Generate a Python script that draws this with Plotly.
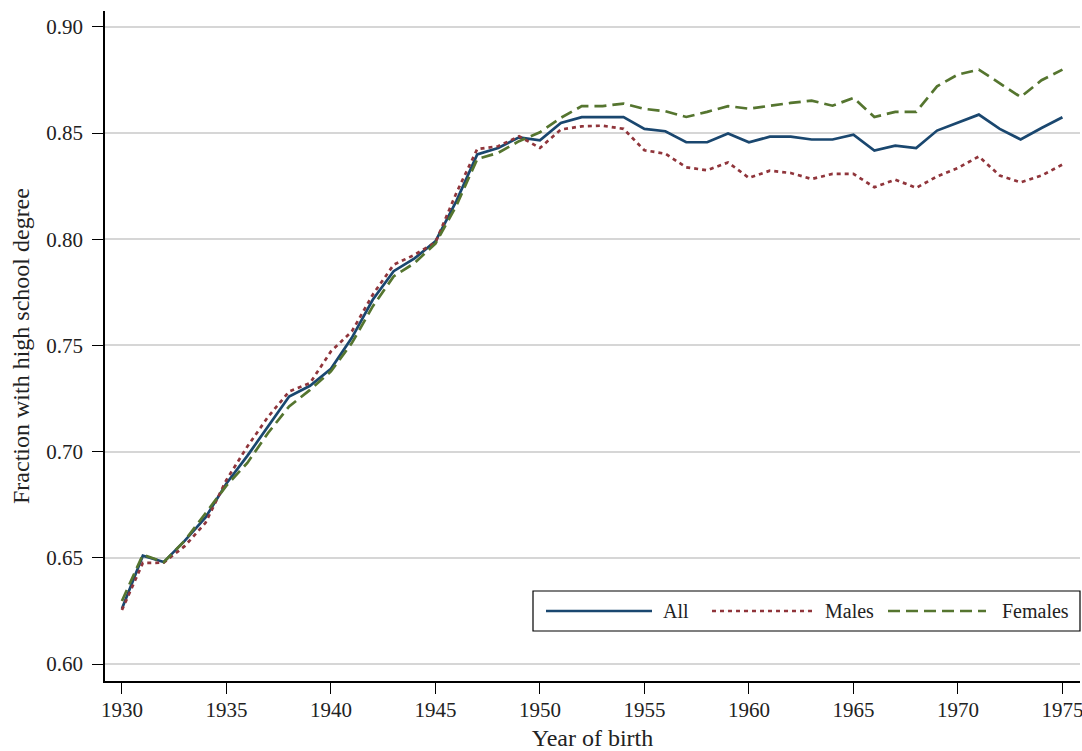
import plotly.graph_objects as go

years = list(range(1930, 1976))

all_vals = [0.626, 0.651, 0.648, 0.658, 0.669, 0.685, 0.698, 0.712, 0.726, 0.731,
            0.739, 0.7536, 0.7715, 0.785, 0.791, 0.799, 0.818, 0.840, 0.843, 0.848,
            0.8466, 0.8548, 0.8575, 0.8575, 0.8575, 0.852, 0.8509, 0.8457, 0.8457, 0.8498,
            0.8457, 0.8483, 0.8483, 0.847, 0.847, 0.8493, 0.8418, 0.8441, 0.843, 0.8512,
            0.8548, 0.8587, 0.852, 0.847, 0.8524, 0.8575]

male_vals = [0.6254, 0.6476, 0.6477, 0.6555, 0.6665, 0.6867, 0.7024, 0.7165, 0.7283, 0.7323,
             0.7472, 0.7566, 0.7739, 0.788, 0.7927, 0.7985, 0.8218, 0.8425, 0.8438, 0.8485,
             0.843, 0.8517, 0.8532, 0.8535, 0.852, 0.8419, 0.8403, 0.8339, 0.8325, 0.8362,
             0.8289, 0.8323, 0.8312, 0.8284, 0.8308, 0.8308, 0.8245, 0.8281, 0.8242, 0.8296,
             0.8336, 0.839, 0.830, 0.8268, 0.830, 0.8352]

female_vals = [0.6297, 0.6515, 0.648, 0.658, 0.671, 0.684, 0.6947, 0.7089, 0.7213, 0.7291,
               0.7378, 0.7511, 0.7684, 0.7825, 0.7888, 0.798, 0.8158, 0.8378, 0.8407, 0.8462,
               0.8504, 0.8572, 0.8627, 0.8627, 0.8639, 0.8614, 0.8603, 0.8576, 0.860, 0.8627,
               0.8615, 0.8629, 0.8642, 0.8653, 0.8629, 0.8666, 0.8576, 0.860, 0.860, 0.872,
               0.8776, 0.8799, 0.8736, 0.867, 0.8749, 0.8799]

series_names = ["All", "Males", "Females"]
x_ticks = [1930, 1935, 1940, 1945, 1950, 1955, 1960, 1965, 1970, 1975]
y_ticks = [0.60, 0.65, 0.70, 0.75, 0.80, 0.85, 0.90]
x_title = "Year of birth"
y_title = "Fraction with high school degree"

NAVY = "#1a476f"
MAROON = "#90353b"
GREEN = "#55752f"
FONT = "Liberation Serif"
TXT = "#222222"

styles = [
    dict(color=NAVY, width=2.7, dash="solid"),
    dict(color=MAROON, width=2.7, dash="4px,4px"),
    dict(color=GREEN, width=2.7, dash="12px,6px"),
]

fig = go.Figure()
for name, vals, st in zip(series_names, [all_vals, male_vals, female_vals], styles):
    fig.add_trace(go.Scatter(x=years, y=vals, mode="lines", name=name, line=st,
                             showlegend=False))

# page body margin is removed below, so the figure starts at the window's (0, 0)
W, H = 1082, 751
L, R, T, B = 105, 2, 11, 70
PW = W - L - R
PH = H - T - B


def px(xw):
    """window x pixel -> paper x"""
    return (xw - L) / PW


def py(yw):
    """window y pixel -> paper y"""
    return (H - B - yw) / PH


# manual legend (box, samples, labels)
fig.add_shape(type="rect", xref="paper", yref="paper",
              x0=px(533), x1=px(1080), y0=py(631), y1=py(591),
              line=dict(color="black", width=1.2), fillcolor="white", layer="above")
leg_items = [(546, 652, 663), (712, 815, 825), (888, 986, 1002)]
for name, st, (a, b, t) in zip(series_names, styles, leg_items):
    fig.add_shape(type="line", xref="paper", yref="paper",
                  x0=px(a), x1=px(b), y0=py(611), y1=py(611),
                  line=st, layer="above")
    fig.add_annotation(xref="paper", yref="paper", x=px(t), y=py(611),
                       text=name, showarrow=False, xanchor="left", yanchor="middle",
                       xshift=-2, font=dict(family=FONT, size=20, color=TXT))

# y-axis title
fig.add_annotation(xref="paper", yref="paper", x=px(21), y=py(346),
                   text=y_title, textangle=-90, showarrow=False,
                   xanchor="center", yanchor="middle",
                   font=dict(family=FONT, size=24, color=TXT))

fig.update_layout(
    width=W, height=H,
    margin=dict(l=L, r=R, t=T, b=B, pad=0, autoexpand=False),
    plot_bgcolor="white", paper_bgcolor="white",
    font=dict(family=FONT, size=20, color=TXT),
    showlegend=False,
)
fig.update_xaxes(
    range=[1929.19, 1975.84], tickvals=x_ticks, ticktext=[str(v) for v in x_ticks],
    showgrid=False, zeroline=False, showline=True, linecolor="black", linewidth=1.5,
    ticks="outside", ticklen=11, tickwidth=1.3, tickcolor="black",
    ticklabeloverflow="allow", ticklabelstandoff=-2, automargin=False,
    tickfont=dict(family=FONT, size=21, color=TXT),
    title=dict(text=x_title, font=dict(family=FONT, size=24, color=TXT), standoff=12),
)
fig.update_yaxes(
    range=[0.5920, 0.9075], tickvals=y_ticks, ticktext=[f"{v:.2f}" for v in y_ticks],
    showgrid=True, gridcolor="#d6d6d6", gridwidth=1.6, zeroline=False,
    showline=True, linecolor="black", linewidth=1.5,
    ticks="outside", ticklen=11, tickwidth=1.3, tickcolor="black",
    ticklabelstandoff=5, automargin=False,
    tickfont=dict(family=FONT, size=21, color=TXT),
)

fig.write_html(
    "out.html",
    config={"displayModeBar": False},
    post_script="document.body.style.margin='0';document.body.style.overflow='hidden';",
)
